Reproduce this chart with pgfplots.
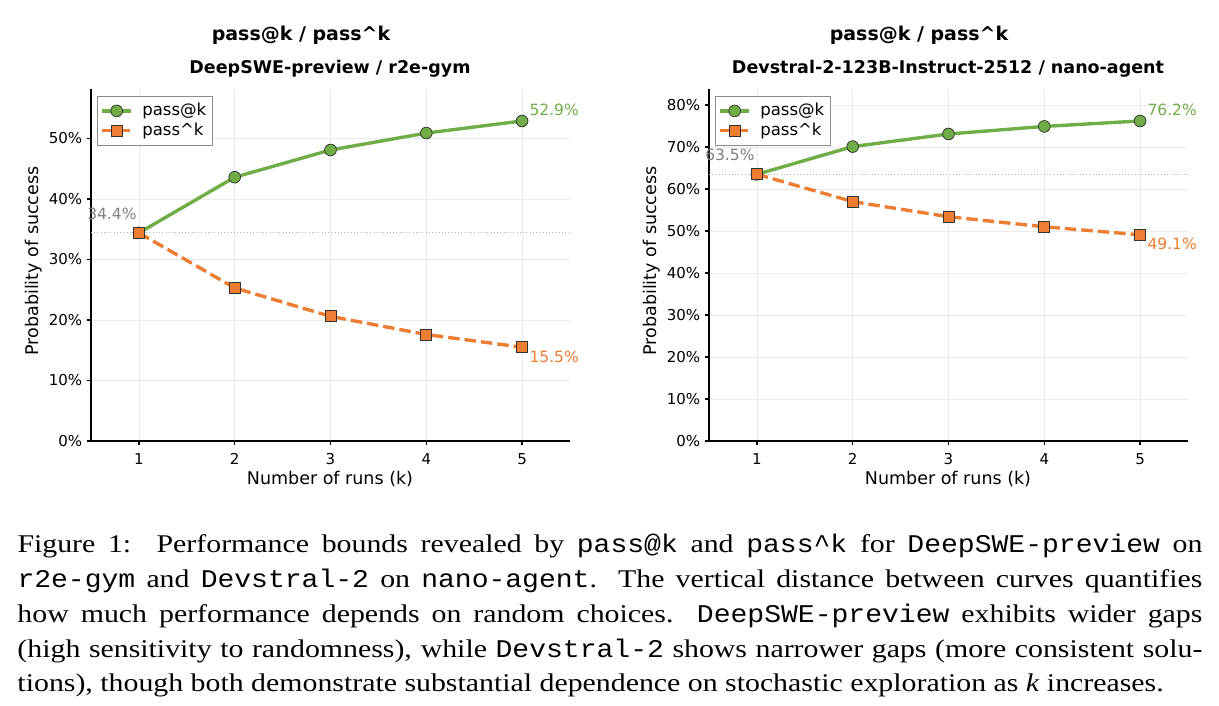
\documentclass[border=0pt]{standalone}
\usepackage{fontspec}
\setmainfont{Liberation Serif}[FakeStretch=1.17]
\setmonofont{Liberation Mono}[FakeStretch=1.10]
\newfontfamily\dejavu{DejaVu Sans}
\usepackage{pgfplots}
\pgfplotsset{compat=1.18}
\definecolor{cgreen}{HTML}{70AD47}
\definecolor{corange}{HTML}{ED7D31}
\definecolor{cgrid}{HTML}{EBEBEB}
\pgfplotsset{
 myax/.style={
  scale only axis, width=191.6pt, height=140.8pt,
  xmin=0.5, xmax=5.5, ymin=0,
  axis x line*=bottom, axis y line*=left,
  axis line style={line width=0.7pt, black},
  tick align=outside, major tick length=1.6pt,
  tick style={line width=0.5pt, black},
  xtick={1,2,3,4,5},
  grid=major, grid style={line width=0.3pt, cgrid},
  ticklabel style={font=\dejavu\fontsize{6.0}{7}\selectfont},
  yticklabel style={xshift=1.6pt},
  /pgf/number format/assume math mode=true,
  legend style={at={(0.0125,0.98)}, anchor=north west, draw=black!45, line width=0.4pt, fill=white,
    font=\dejavu\fontsize{6.6}{7.5}\selectfont, inner sep=1.2pt, row sep=-1.2pt, column sep=2.5pt,
    nodes={inner sep=1.3pt}, cells={anchor=west}},
  legend image code/.code={\draw[mark repeat=2,mark phase=2] plot coordinates {(0pt,0pt) (5.8pt,0pt) (11.6pt,0pt)};},
  clip=false,
 },
 gline/.style={cgreen, line width=1.35pt, mark=*, mark size=2.35pt, mark options={solid, fill=cgreen, draw=black!80, line width=0.3pt}},
 oline/.style={corange, line width=1.35pt, dash pattern=on 4.6pt off 2pt, mark=square*, mark size=2.2pt, mark options={solid, fill=corange, draw=black!80, line width=0.3pt}},
 refline/.style={black!30, line width=0.4pt, dash pattern=on 0.4pt off 0.9pt, forget plot},
}
\newcommand{\annfont}{\dejavu\fontsize{6.2}{7}\selectfont}
\begin{document}
\begin{tikzpicture}
\useasboundingbox (0,0) rectangle (487.6pt,282.4pt);
% Left panel
\begin{axis}[myax, at={(36.4pt,106pt)}, anchor=south west, ymax=58.19,
  ytick={0,10,20,30,40,50}, yticklabels={0\%,10\%,20\%,30\%,40\%,50\%}]
\addplot[refline] coordinates {(0.5,34.4) (5.5,34.4)};
\addplot[gline] coordinates {(1,34.4) (2,43.6) (3,48.1) (4,50.9) (5,52.9)};
\addlegendentry{pass@k}
\addplot[oline] coordinates {(1,34.4) (2,25.3) (3,20.6) (4,17.6) (5,15.5)};
\addlegendentry{pass\textasciicircum{}k}
\node[text=gray, font=\annfont, xshift=-10.8pt, yshift=7.6pt] at (axis cs:1,34.4) {34.4\%};
\node[text=cgreen, font=\annfont, anchor=west, inner sep=0pt, xshift=2.8pt, yshift=4.6pt] at (axis cs:5,52.9) {52.9\%};
\node[text=corange, font=\annfont, anchor=west, inner sep=0pt, xshift=2.8pt, yshift=-3.8pt] at (axis cs:5,15.5) {15.5\%};
\end{axis}
% Right panel
\begin{axis}[myax, at={(283.6pt,106pt)}, anchor=south west, ymax=83.82,
  ytick={0,10,20,30,40,50,60,70,80}, yticklabels={0\%,10\%,20\%,30\%,40\%,50\%,60\%,70\%,80\%}]
\addplot[refline] coordinates {(0.5,63.5) (5.5,63.5)};
\addplot[gline] coordinates {(1,63.5) (2,70.1) (3,73.1) (4,74.9) (5,76.2)};
\addlegendentry{pass@k}
\addplot[oline] coordinates {(1,63.5) (2,57.0) (3,53.4) (4,51.0) (5,49.1)};
\addlegendentry{pass\textasciicircum{}k}
\node[text=gray, font=\annfont, xshift=-10.8pt, yshift=7.6pt] at (axis cs:1,63.5) {63.5\%};
\node[text=cgreen, font=\annfont, anchor=west, inner sep=0pt, xshift=2.8pt, yshift=4.6pt] at (axis cs:5,76.2) {76.2\%};
\node[text=corange, font=\annfont, anchor=west, inner sep=0pt, xshift=2.8pt, yshift=-3.8pt] at (axis cs:5,49.1) {49.1\%};
\end{axis}
% Titles and labels
\node[anchor=base, font=\dejavu\bfseries\fontsize{7.6}{9}\selectfont] at (120.4pt,266pt) {pass@k / pass\textasciicircum{}k};
\node[anchor=base, font=\dejavu\bfseries\fontsize{7.6}{9}\selectfont] at (367.6pt,266pt) {pass@k / pass\textasciicircum{}k};
\node[anchor=base, font=\dejavu\bfseries\fontsize{7.0}{8}\selectfont] at (132pt,253.1pt) {DeepSWE-preview / r2e-gym};
\node[anchor=base, font=\dejavu\bfseries\fontsize{7.0}{8}\selectfont] at (379.2pt,253.1pt) {Devstral-2-123B-Instruct-2512 / nano-agent};
\node[anchor=base, font=\dejavu\fontsize{7.0}{8}\selectfont] at (132pt,88.4pt) {Number of runs (k)};
\node[anchor=base, font=\dejavu\fontsize{7.0}{8}\selectfont] at (379.2pt,88.4pt) {Number of runs (k)};
\node[rotate=90, font=\dejavu\fontsize{7.0}{8}\selectfont] at (13.4pt,178pt) {Probability of success};
\node[rotate=90, font=\dejavu\fontsize{7.0}{8}\selectfont] at (260.6pt,178pt) {Probability of success};
% Caption
\node[anchor=base west, inner sep=0pt, text width=474pt, align=justify, font=\fontsize{10.2}{13.9}\selectfont] at (6.8pt,61.2pt)
{\hyphenpenalty=10000\exhyphenpenalty=10000
Figure 1:\ \ Performance bounds revealed by \texttt{pass@k} and \texttt{pass\textasciicircum{}k} for \texttt{DeepSWE-preview} on\linebreak
\texttt{r2e-gym} and \texttt{Devstral-2} on \texttt{nano-agent}. The vertical distance between curves quantifies\linebreak
how much performance depends on random choices. \texttt{DeepSWE-preview} exhibits wider gaps\linebreak
(high sensitivity to randomness), while \texttt{Devstral-2} shows narrower gaps (more consistent solu-\linebreak
tions), though both demonstrate substantial dependence on stochastic exploration as \textit{k} increases.};
\end{tikzpicture}
\end{document}
